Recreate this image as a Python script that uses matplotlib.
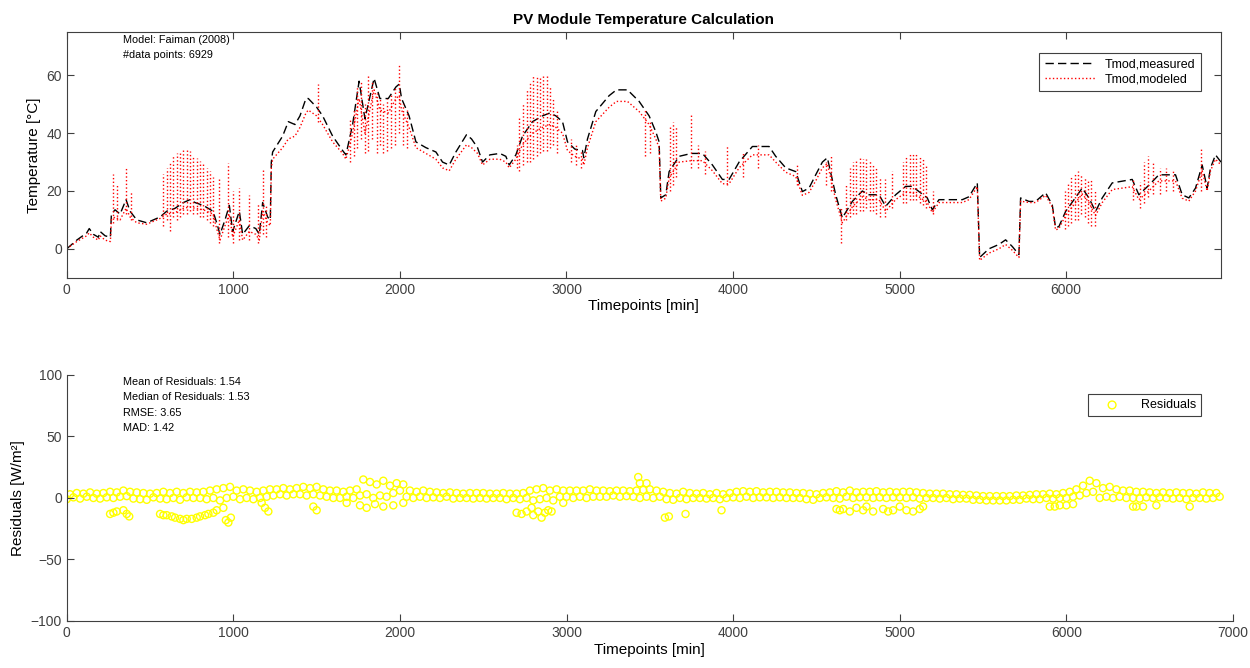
import numpy as np
import matplotlib.pyplot as plt

plt.rcParams['font.family'] = ['Liberation Sans', 'DejaVu Sans']

# measured module temperature, breakpoints [min, degC]
meas_t = [0, 60, 120, 135, 160, 190, 200, 230, 262, 268, 290, 320, 356, 380, 420, 480, 520, 560,
          600, 650, 700, 740, 770, 820, 878, 900, 920, 950, 976, 996, 1036, 1056, 1096, 1135,
          1156, 1176, 1206, 1222, 1228, 1236, 1296, 1330, 1370, 1400, 1436, 1450, 1500, 1536,
          1596, 1656, 1676, 1716, 1755, 1790, 1845, 1880, 1930, 1976, 1996, 2010, 2055, 2096,
          2156, 2216, 2256, 2296, 2336, 2400, 2430, 2466, 2496, 2540, 2600, 2636, 2656, 2696,
          2736, 2796, 2856, 2900, 2936, 2976, 3006, 3050, 3096, 3104, 3126, 3176, 3256, 3300,
          3366, 3436, 3496, 3536, 3556, 3566, 3596, 3616, 3676, 3750, 3816, 3876, 3936, 3976,
          4036, 4116, 4216, 4256, 4316, 4376, 4416, 4456, 4496, 4536, 4566, 4616, 4656, 4716,
          4776, 4816, 4876, 4916, 4976, 5036, 5076, 5116, 5166, 5196, 5236, 5300, 5376, 5416,
          5466, 5480, 5536, 5596, 5636, 5676, 5716, 5726, 5776, 5816, 5876, 5916, 5936, 5956,
          5996, 6096, 6136, 6176, 6216, 6276, 6396, 6436, 6496, 6556, 6656, 6696, 6736, 6776,
          6816, 6846, 6866, 6896, 6929]
meas_T = [0, 3, 5.5, 7, 5, 4, 6, 4.5, 4, 12, 13.5, 12, 17, 13, 10, 9, 10, 11,
          13, 14, 16, 17, 16, 15, 13, 9, 5, 10, 15, 6, 13, 5, 8, 7,
          5, 16, 11, 10, 30, 33.5, 39, 44, 43, 46, 52, 52, 49, 46,
          39, 34, 32.5, 43, 58, 45, 59, 52, 52, 56, 57, 52, 46, 37,
          35, 33.5, 30, 29, 33.5, 39.5, 38, 35, 30, 32.5, 33, 32, 29, 32.5,
          39, 44, 46, 47, 46, 44, 37, 34.5, 34, 31.5, 38, 47.5, 53, 55,
          55, 51, 46, 40.5, 37, 17.6, 18.7, 26.7, 32, 33, 33, 29, 24, 24,
          30, 35.4, 35.4, 32, 28, 26.7, 19.8, 21, 25.6, 30, 31.5, 18.7, 10.7, 16.4,
          20, 18.7, 18.7, 14.7, 18.7, 21.6, 21.6, 19.8, 17.6, 13.5, 17, 17, 17, 18,
          22.8, -3, 0, 1.5, 3.1, 0.8, -2, 17.6, 16.4, 16.4, 19.4, 15.2, 7.3, 7.7,
          12.9, 21, 17.6, 12.9, 17.6, 22.8, 24, 18.7, 22, 25.6, 25.6, 18.7, 17.6, 21,
          29, 21, 28, 32.5, 30]

# modeled module temperature at the same timepoints
model_T = [0, 2.5, 4.5, 5.5, 4, 3, 4.5, 3, 2.5, 10, 11, 10, 14, 11, 9, 8.5, 9.5, 10.5,
           12, 12.5, 14, 14.5, 14, 13.5, 12, 7, 3, 8, 12, 4, 10, 3, 6, 5,
           3, 13, 9, 8, 28, 31, 35, 38, 39, 42, 47, 48, 46, 43,
           37, 33, 31, 40, 52, 40, 55, 48, 47, 52, 53, 48, 42, 35,
           33, 31, 28, 27, 31, 36, 35, 33, 29, 31, 31, 30, 28, 31,
           36, 40, 42, 43, 42, 40, 34, 32, 31, 29, 35, 44, 49, 51,
           51, 47.5, 43, 38, 35, 16.5, 17.5, 24.5, 30, 30.5, 30.5, 27, 22.5, 22.5,
           28, 32.5, 32.5, 30, 26.5, 25, 18.5, 19.5, 23.5, 28, 29.5, 17, 9, 14.5,
           18, 17, 17, 13, 17, 19.5, 19.5, 18, 16, 12.5, 16, 16, 16, 17,
           21.5, -4, -1.5, 0, 1.5, -0.5, -3, 16.5, 16, 16, 18.5, 14.5, 6.5, 7,
           11.5, 19, 16, 11.5, 16, 20.5, 21.5, 17, 20, 23.5, 23.5, 17.5, 16.5, 20,
           27, 20, 27, 31, 29]

# short excursions of the modeled series (time, low, high)
spike_t = [275, 300, 356, 385,
           580, 600, 620, 640, 660, 680, 700, 720, 740, 760, 780, 800, 820, 840, 860, 880,
           916, 966, 1000, 1036, 1096, 1150, 1176, 1195, 1506,
           1700, 1725, 1745, 1765, 1790, 1810, 1830, 1860, 1880, 1900, 1920, 1945, 1970,
           1996, 2020, 2040,
           2700, 2716, 2740, 2760, 2780, 2800, 2820, 2840, 2860, 2880, 2900, 2920, 2940,
           3030, 3060, 3090, 3470, 3500, 3620, 3640, 3660, 3750, 3790, 3830, 3966, 4060,
           4150, 4386, 4560, 4590, 4646,
           4680, 4700, 4720, 4740, 4760, 4780, 4800, 4820, 4840, 4860, 4880, 4910, 4956,
           5020, 5040, 5060, 5080, 5100, 5120, 5140, 5160, 5200,
           5990, 6010, 6030, 6050, 6070, 6090, 6110, 6130, 6150, 6170,
           6400, 6440, 6466, 6490, 6520, 6560, 6600, 6640, 6806]
spike_lo = [9, 10, 12, 10,
            8, 10, 6, 11, 10, 11, 12, 12, 13, 12, 12, 11, 11, 10, 9, 8,
            2, 4, 2, 3, 3, 2, 5, 4, 44,
            30, 32, 35, 38, 33, 34, 38, 33, 36, 33, 34, 35, 36,
            40, 36, 35,
            28, 27, 29, 30, 30, 31, 32, 33, 34, 34, 35, 36, 33,
            30, 29, 28, 32, 33, 20, 22, 25, 28, 28, 26, 22, 25,
            28, 22, 22, 20, 2,
            10, 11, 12, 12, 13, 13, 14, 13, 13, 12, 11, 11, 14,
            16, 16, 17, 17, 17, 16, 15, 14, 12,
            7, 8, 9, 10, 10, 12, 11, 9, 8, 8,
            17, 14, 16, 18, 19, 19, 20, 20, 20]
spike_hi = [26, 22, 28, 20,
            26, 28, 30, 32, 33, 34, 34.5, 35, 34, 32, 31.5, 30.5, 30, 28, 27, 25,
            24.6, 29.7, 20, 21, 18.7, 16, 28, 15, 57,
            45, 48, 56, 58, 50, 60, 58, 54, 52, 50, 52, 54, 56,
            64, 50, 48,
            36, 46, 50, 55, 58, 60, 60, 59, 60, 60, 56, 52, 48,
            38, 36, 34, 48, 44, 43, 44, 42, 47, 36, 34, 36, 33,
            36, 29, 30, 32, 14,
            22, 28, 30, 31, 31.5, 31, 31, 30.5, 29.5, 28, 25, 24, 27,
            30, 32, 33, 33, 33, 32, 31, 29, 20,
            20, 23, 25, 26, 27, 26, 25, 24, 24, 20,
            24, 23, 30, 32, 30, 28, 28, 27, 35]

# residuals, main band every 20 min
res_band = [-1, 3, 0.5, 4, -0.5, 3.5, 1, 4.5, 0, 3.5,
            -0.5, 4, 0.5, 5, 0, 4.5, 1, 6, 1.5, 5,
            -0.5, 4.5, -1, 4, -1.5, 3.5, 0.5, 4, -0.5, 5,
            -1, 4, 0, 5, -1.5, 4, 0.5, 5, 0, 4.5,
            0, 5, -1, 6, 0, 7, -2, 8, 0, 9,
            1, 6, -1, 7, 0, 6, -1, 5, 0, 6,
            1, 7, 2, 7, 3, 8, 2, 7, 3, 8,
            3, 9, 2, 8, 3, 9, 2, 7, 1, 6,
            0, 6, 0, 5, 1, 6, 0, 7, 2, 15,
            3, 13, 0, 11, 2, 14, 1, 10, 4, 12,
            6, 11, 1, 6, 0, 5, 1, 6, 0, 5,
            0.5, 4.5, 0, 4, 1, 4.5, -0.5, 4, 0, 3.5,
            0, 4, -0.5, 4, 0, 4, -0.5, 3.5, 0, 3.5,
            0, 4, -1, 3.5, 0, 3.5, -1, 4, 0, 6,
            -2, 7, -1, 8, 0, 6, -2, 7, 1, 6,
            1, 6, 0, 6, 1, 6, 0, 7, 1, 6,
            1, 6, 1, 5.5, 2, 6, 1, 6, 1.5, 5.5,
            1, 6, 0, 6.5, 1, 7, 0, 6, 1, 5,
            -1, 4, -1.5, 3.5, 0, 5, -1, 4, 0, 3.5,
            0, 4, -0.5, 3, 0, 4, -1, 3, 0, 4,
            0.5, 5, 0, 5.5, 1, 5, 0, 5.5, 0.5, 4.5,
            0.5, 5, 0, 5, 0.5, 4.5, 0, 4.5, 0, 4,
            0, 4, -1, 3.5, -1.5, 3, 0, 4, 0.5, 4.5,
            0, 5.5, -0.5, 4.5, 1, 6, 0, 4.5, 0.5, 5,
            0.5, 5, 0, 5.5, 0.5, 4.5, 0, 5, 0.5, 4.5,
            0.5, 5, 0, 5, 0.5, 4.5, -0.5, 4, 0, 3.5,
            0, 3.5, -0.5, 3.5, 0, 3, -1, 3, -0.5, 2.5,
            -0.5, 2.5, -1.5, 2, -1.5, 1.5, -2, 1.5, -2, 1.5,
            -2, 1.5, -2, 1.5, -1.5, 2, -1.5, 2, -0.5, 2.5,
            -1, 3, -1, 3, 0, 3.5, -0.5, 3, 0, 4,
            0, 5, 1, 7, 2, 10, 4, 14, 5, 12,
            0, 8, 1, 9, 0, 7, 1, 6, 0, 6,
            0, 5, -0.5, 5, 0.5, 4.5, 0, 4, 0.5, 4.5,
            0, 4, -0.5, 4.5, 0, 4, -1, 4, 0, 3.5,
            0, 4.5, -0.5, 4, 0, 4, 1]
res_band_t = np.arange(0, 20 * len(res_band), 20)

# residual outliers
res_out_t = [260, 280, 300, 340, 360, 375,
             560, 580, 600, 630, 650, 680, 700, 720, 750, 780, 800, 830, 850, 880, 900,
             940, 955, 970, 985, 1170, 1190, 1210, 1480, 1500,
             1680, 1760, 1800, 1850, 1900, 1960, 2020,
             2700, 2730, 2760, 2790, 2800, 2830, 2850, 2870, 2890, 2910, 2980,
             3430, 3440, 3480, 3590, 3614, 3714, 3930,
             4620, 4640, 4660, 4700, 4740, 4780, 4800, 4840, 4900, 4930, 4960, 5000,
             5040, 5080, 5120, 5140,
             5900, 5930, 5960, 6000, 6040, 6400, 6420, 6460, 6540, 6740]
res_out_v = [-13, -12, -11, -10, -13, -15,
             -13, -14, -14, -15, -16, -17, -18, -17, -17, -16, -15, -14, -13, -12, -10,
             -8, -18, -20, -16, -4, -8, -11, -7, -10,
             -4, -6, -8, -5, -7, -6, -4,
             -12, -13, -11, -8, -14, -11, -16, -12, -10, -11, -4,
             17, 12, 12, -16, -15, -13, -10,
             -9, -10, -9, -11, -8, -10, -7, -11, -9, -11, -10, -7,
             -10, -11, -9, -7,
             -7, -7, -6, -6, -5, -7, -7, -7, -6, -7]

stats = {'mean': 1.54, 'median': 1.53, 'rmse': 3.65, 'mad': 1.42}
n_points = 6929

axcol = '#404040'

fig = plt.figure(figsize=(12.5, 6.68), dpi=100)
ax1 = fig.add_axes([0.0534, 0.5843, 0.9234, 0.3677])
ax2 = fig.add_axes([0.0534, 0.0704, 0.933, 0.3683])

# top: temperatures
ax1.plot(meas_t, meas_T, color='black', linestyle=(0, (6, 3)), linewidth=1, label='Tmod,measured')
ax1.plot(meas_t, model_T, color='red', linestyle=':', linewidth=1, label='Tmod,modeled')
ax1.vlines(spike_t, spike_lo, spike_hi, colors='red', linestyles=':', linewidth=1)
ax1.set_xlim(0, n_points)
ax1.set_ylim(-10, 75)
ax1.set_xticks(range(0, 7000, 1000))
ax1.set_yticks([0, 20, 40, 60])
ax1.set_title('PV Module Temperature Calculation', fontsize=11, fontweight='bold', pad=6)
ax1.set_xlabel('Timepoints [min]', fontsize=11, labelpad=2)
ax1.set_ylabel('Temperature [°C]', fontsize=11, labelpad=4)
ax1.text(0.049, 0.968, 'Model: Faiman (2008)', transform=ax1.transAxes, fontsize=7.8, va='center')
ax1.text(0.049, 0.906, '#data points: %d' % n_points, transform=ax1.transAxes, fontsize=7.8, va='center')
leg1 = ax1.legend(loc='upper right', bbox_to_anchor=(0.988, 0.94), fontsize=9, handlelength=4,
                  fancybox=False, framealpha=1, borderpad=0.45, labelspacing=0.25)
leg1.get_frame().set_edgecolor(axcol)
leg1.get_frame().set_linewidth(0.8)
ax1.tick_params(direction='in', top=True, right=True, length=5, labelsize=10, colors=axcol)
for s in ax1.spines.values():
    s.set_color(axcol)
    s.set_linewidth(0.8)

# bottom: residuals
ax2.scatter(res_band_t, res_band, s=26, facecolors='none', edgecolors='#FFFF00', linewidths=1.0,
            label='Residuals')
ax2.scatter(res_out_t, res_out_v, s=26, facecolors='none', edgecolors='#FFFF00', linewidths=1.0)
ax2.set_xlim(0, 7000)
ax2.set_ylim(-100, 100)
ax2.set_xticks(range(0, 7001, 1000))
ax2.set_yticks([-100, -50, 0, 50, 100])
ax2.set_xlabel('Timepoints [min]', fontsize=11, labelpad=2)
ax2.set_ylabel('Residuals [W/m²]', fontsize=11, labelpad=4)
lines = ['Mean of Residuals: %.2f' % stats['mean'],
         'Median of Residuals: %.2f' % stats['median'],
         'RMSE: %.2f' % stats['rmse'],
         'MAD: %.2f' % stats['mad']]
for i, txt in enumerate(lines):
    ax2.text(0.048, 0.971 - i * 0.062, txt, transform=ax2.transAxes, fontsize=7.8, va='center')
leg2 = ax2.legend(loc='upper right', bbox_to_anchor=(0.978, 0.947), fontsize=9, handlelength=3,
                  fancybox=False, framealpha=1, borderpad=0.4, markerscale=1.1)
leg2.get_frame().set_edgecolor(axcol)
leg2.get_frame().set_linewidth(0.8)
ax2.spines['top'].set_visible(False)
ax2.spines['right'].set_visible(False)
ax2.tick_params(direction='in', length=5, labelsize=10, colors=axcol)
for s in ax2.spines.values():
    s.set_color(axcol)
    s.set_linewidth(0.8)

fig.savefig('out.png', dpi=100)
